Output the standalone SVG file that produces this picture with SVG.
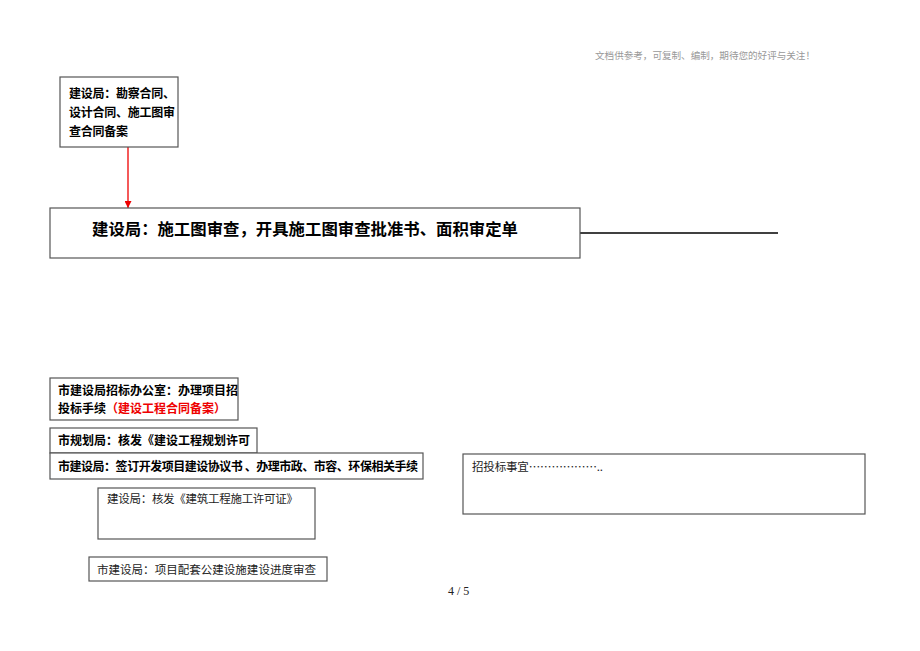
<svg xmlns="http://www.w3.org/2000/svg" width="920" height="651" viewBox="0 0 920 651">
<style>
.box{fill:#fff;stroke:#555;stroke-width:1.2}
.b{font-family:"Noto Sans CJK SC",sans-serif;font-weight:bold;font-size:12px;fill:#000}
.n{font-family:"Noto Sans CJK SC",sans-serif;font-size:11.5px;fill:#222}
</style>
<defs>
<marker id="ah" viewBox="0 0 10 10" refX="10" refY="5" markerWidth="7" markerHeight="7" orient="auto" markerUnits="userSpaceOnUse"><path d="M0,0 L10,5 L0,10 z" fill="#e00"/></marker>
</defs>
<rect width="920" height="651" fill="#fff"/>
<text x="595" y="59" font-family="Noto Sans CJK SC,sans-serif" font-size="9.6" fill="#999" textLength="220">文档供参考，可复制、编制，期待您的好评与关注！</text>
<g id="connectors">
<line x1="128" y1="147" x2="128" y2="208" stroke="#e00" stroke-width="1.3" marker-end="url(#ah)"/>
<line x1="580" y1="233" x2="778" y2="233" stroke="#000" stroke-width="1.5"/>
</g>
<g id="n1"><rect class="box" x="60" y="77" width="118" height="70"/>
<text class="b" x="69" y="98" textLength="106">建设局：勘察合同、</text>
<text class="b" x="69" y="117" textLength="106">设计合同、施工图审</text>
<text class="b" x="69" y="136" textLength="59">查合同备案</text></g>
<g id="n2"><rect class="box" x="50" y="208" width="530" height="50"/>
<text class="b" x="92" y="235" style="font-size:16.4px" textLength="426">建设局：施工图审查，开具施工图审查批准书、面积审定单</text></g>
<g id="n3"><rect class="box" x="50" y="378" width="188" height="42"/>
<text class="b" x="58" y="395">市建设局招标办公室：办理项目招</text>
<text class="b" x="58" y="413">投标手续<tspan fill="#e00">（建设工程合同备案）</tspan></text></g>
<g id="n4"><rect class="box" x="50" y="428" width="207" height="25"/>
<text class="b" x="58" y="445">市规划局：核发《建设工程规划许可</text></g>
<g id="n5"><rect class="box" x="50" y="453" width="373" height="26"/>
<text class="b" x="58" y="471" textLength="360">市建设局：签订开发项目建设协议书 、办理市政、市容、环保相关手续</text></g>
<g id="n6"><rect class="box" x="98" y="488" width="217" height="51"/>
<text class="n" x="107" y="503" textLength="191">建设局：核发《建筑工程施工许可证》</text></g>
<g id="n7"><rect class="box" x="89" y="557" width="238" height="24"/>
<text class="n" x="97" y="574" textLength="219">市建设局：项目配套公建设施建设进度审查</text></g>
<g id="n8"><rect class="box" x="463" y="454" width="402" height="60"/>
<text class="n" x="472" y="471" textLength="131">招投标事宜………………..</text></g>
<text x="448" y="595" font-family="Liberation Serif,serif" font-size="12" fill="#222">4 / 5</text>
</svg>
